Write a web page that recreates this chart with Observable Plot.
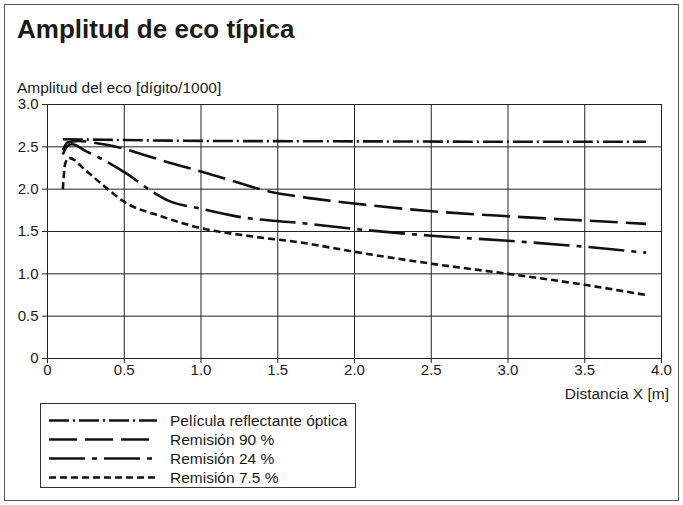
<!DOCTYPE html>
<html><head><meta charset="utf-8">
<script src="https://cdn.jsdelivr.net/npm/d3@7"></script>
<script src="https://cdn.jsdelivr.net/npm/@observablehq/plot@0.6"></script>
<style>
body{margin:0;background:#fff;font-family:"Liberation Sans",Arial,Helvetica,sans-serif;color:#1a1a1a;}
#wrap{position:relative;width:683px;height:505px;overflow:hidden;background:#fff;}
#frame{position:absolute;left:4px;top:4px;width:675px;height:497px;border:1.5px solid #555;box-sizing:border-box;}
#title{position:absolute;left:17px;top:16px;font-size:26px;font-weight:bold;line-height:1;white-space:nowrap;}
#ylabel{position:absolute;left:17px;top:80px;font-size:15.5px;line-height:1;white-space:nowrap;}
#xlabel{position:absolute;right:14px;top:386px;font-size:15.5px;line-height:1;white-space:nowrap;}
#chart{position:absolute;left:0;top:90px;}
#legend{position:absolute;left:40px;top:403px;width:316px;height:85px;border:1.5px solid #333;box-sizing:border-box;}
.lrow{position:absolute;left:0;height:19px;}
.lrow svg{position:absolute;left:8px;top:0;}
.lrow span{position:absolute;left:129px;top:2px;font-size:15.5px;line-height:1;white-space:nowrap;}
</style>
</head>
<body>
<div id="wrap">
  <div id="frame"></div>
  <div id="title">Amplitud de eco típica</div>
  <div id="ylabel">Amplitud del eco [dígito/1000]</div>
  <div id="chart"></div>
  <div id="xlabel">Distancia X [m]</div>
  <div id="legend"></div>
</div>
<script>
// ---- data ----
const seriesNames = ["Película reflectante óptica", "Remisión 90 %", "Remisión 24 %", "Remisión 7.5 %"];

const xPelicula = [0.1, 0.5, 1.0, 2.0, 3.0, 3.9];
const yPelicula = [2.59, 2.58, 2.57, 2.565, 2.56, 2.56];

const xRem90 = [0.1, 0.13, 0.2, 0.3, 0.475, 0.62, 0.8, 1.0, 1.2, 1.45, 1.65, 2.0, 2.5, 3.0, 3.5, 3.9];
const yRem90 = [2.46, 2.55, 2.57, 2.55, 2.49, 2.41, 2.31, 2.21, 2.10, 1.97, 1.91, 1.83, 1.74, 1.68, 1.63, 1.59];

const xRem24 = [0.1, 0.13, 0.16, 0.25, 0.38, 0.51, 0.7, 0.78, 1.0, 1.26, 1.65, 2.0, 2.5, 3.0, 3.5, 3.9];
const yRem24 = [2.41, 2.51, 2.53, 2.45, 2.33, 2.19, 1.95, 1.87, 1.77, 1.67, 1.60, 1.53, 1.45, 1.39, 1.32, 1.25];

const xRem75 = [0.1, 0.115, 0.14, 0.25, 0.36, 0.5, 0.74, 1.0, 1.34, 1.65, 2.0, 2.5, 3.0, 3.5, 3.9];
const yRem75 = [2.0, 2.3, 2.37, 2.22, 2.05, 1.85, 1.68, 1.54, 1.44, 1.37, 1.26, 1.12, 1.0, 0.87, 0.75];

const xTicks = [0, 0.5, 1.0, 1.5, 2.0, 2.5, 3.0, 3.5, 4.0];
const yTicks = [0, 0.5, 1.0, 1.5, 2.0, 2.5, 3.0];

// ---- styles (separate from data) ----
const dashes = ["20,4,2,4", "28,8", "36,7,5,7", "7,4"];
const xs = [xPelicula, xRem90, xRem24, xRem75];
const ys = [yPelicula, yRem90, yRem24, yRem75];

const fmt = d => d === 0 ? "0" : d.toFixed(1);

const lineMarks = xs.map((xa, i) =>
  Plot.line(xa.map((x, j) => ({x, y: ys[i][j]})), {
    x: "x", y: "y", curve: "monotone-x",
    stroke: "#111", strokeWidth: 2.6, strokeDasharray: dashes[i], strokeLinecap: "butt"
  })
);

const chart = Plot.plot({
  width: 683,
  height: 310,
  marginLeft: 47,
  marginRight: 22,
  marginTop: 14,
  marginBottom: 42,
  style: {fontSize: "15px", fontFamily: '"Liberation Sans", Arial, Helvetica, sans-serif', color: "#1a1a1a", background: "transparent"},
  x: {domain: [0, 4]},
  y: {domain: [0, 3]},
  marks: [
    Plot.gridX(xTicks, {stroke: "#222", strokeOpacity: 1, strokeWidth: 1}),
    Plot.gridY(yTicks, {stroke: "#222", strokeOpacity: 1, strokeWidth: 1}),
    Plot.axisX({ticks: xTicks, tickFormat: fmt, tickSize: 5, tickPadding: 1, label: null, stroke: "#222"}),
    Plot.axisY({ticks: yTicks, tickFormat: fmt, tickSize: 5, tickPadding: 4, label: null, stroke: "#222"}),
    ...lineMarks
  ]
});
document.getElementById("chart").appendChild(chart);

// ---- legend ----
const legend = document.getElementById("legend");
const rowTops = [7, 26, 45, 64];
seriesNames.forEach((name, i) => {
  const row = document.createElement("div");
  row.className = "lrow";
  row.style.top = rowTops[i] + "px";
  row.style.width = "300px";
  row.innerHTML = `<svg width="112" height="19"><line x1="0" x2="108" y1="9.5" y2="9.5" stroke="#111" stroke-width="2.6" stroke-dasharray="${dashes[i]}"/></svg><span>${name}</span>`;
  legend.appendChild(row);
});
</script>
</body></html>
